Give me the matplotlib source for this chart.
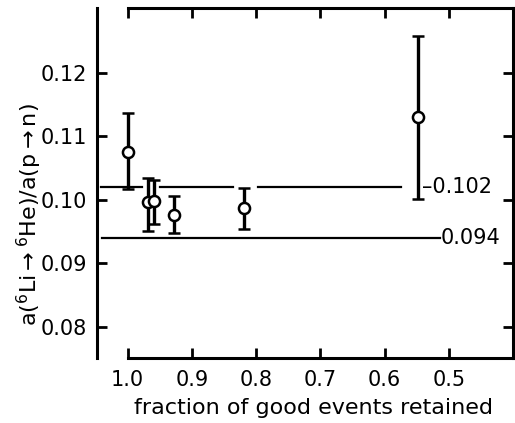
import matplotlib.pyplot as plt

plt.rcParams.update({
    'font.family': 'DejaVu Sans',
    'mathtext.fontset': 'dejavusans',
    'font.size': 15,
})

# fraction of good events retained and the ratio with its error bar ends
fraction = [1.0, 0.969, 0.959, 0.928, 0.819, 0.548]
ratio = [0.1076, 0.0996, 0.0998, 0.0976, 0.0987, 0.1130]
ratio_low = [0.1017, 0.0951, 0.0962, 0.0947, 0.0954, 0.1002]
ratio_high = [0.1137, 0.1035, 0.1031, 0.1006, 0.1019, 0.1258]

# horizontal reference levels
level_hi = 0.102
level_lo = 0.094
level_hi_segments = [(1.041, 0.978), (0.950, 0.836), (0.797, 0.575)]
level_lo_span = (1.040, 0.513)

x_ticks = [1.0, 0.9, 0.8, 0.7, 0.6, 0.5]
x_ticklabels = ['1.0', '0.9', '0.8', '0.7', '0.6', '0.5']
y_ticks = [0.08, 0.09, 0.10, 0.11, 0.12]
y_ticklabels = ['0.08', '0.09', '0.10', '0.11', '0.12']

fig = plt.figure(figsize=(5.15, 4.23), dpi=100)
ax = fig.add_axes([0.188, 0.154, 0.808, 0.827])

err_lo = [r - l for r, l in zip(ratio, ratio_low)]
err_hi = [h - r for r, h in zip(ratio, ratio_high)]
ax.errorbar(fraction, ratio, yerr=[err_lo, err_hi], fmt='o', color='black',
            mfc='white', mec='black', ms=8, mew=1.8, elinewidth=2.4,
            capsize=4.5, capthick=2.2, zorder=3)

for x0, x1 in level_hi_segments:
    ax.plot([x0, x1], [level_hi, level_hi], color='black', lw=1.6, zorder=2)
ax.plot(list(level_lo_span), [level_lo, level_lo], color='black', lw=1.6, zorder=2)

ax.text(0.541, level_hi, '\u2013' + '0.102', ha='left', va='center', fontsize=15)
ax.text(0.513, level_lo, '0.094', ha='left', va='center', fontsize=15)

ax.set_xlim(1.048, 0.4)
ax.set_ylim(0.0751, 0.1302)
ax.set_xticks(x_ticks)
ax.set_xticklabels(x_ticklabels)
ax.set_yticks(y_ticks)
ax.set_yticklabels(y_ticklabels)

ax.tick_params(direction='in', length=7, width=2, top=True, right=True,
               labelsize=15)
ax.tick_params(axis='x', pad=9)
ax.tick_params(axis='y', pad=7)

for side in ['left', 'bottom', 'right', 'top']:
    ax.spines[side].set_linewidth(2.2)
ax.spines['top'].set_bounds(1.0, 0.4)
ax.spines['bottom'].set_bounds(1.0, 0.4)

ax.set_xlabel('fraction of good events retained', fontsize=16)
ax.xaxis.set_label_coords(0.52, -0.115)
ax.set_ylabel(r'a($^6$Li$\rightarrow^6$He)/a(p$\rightarrow$n)', fontsize=16)
ax.yaxis.set_label_coords(-0.128, 0.41)

fig.savefig('out.png', dpi=100)
